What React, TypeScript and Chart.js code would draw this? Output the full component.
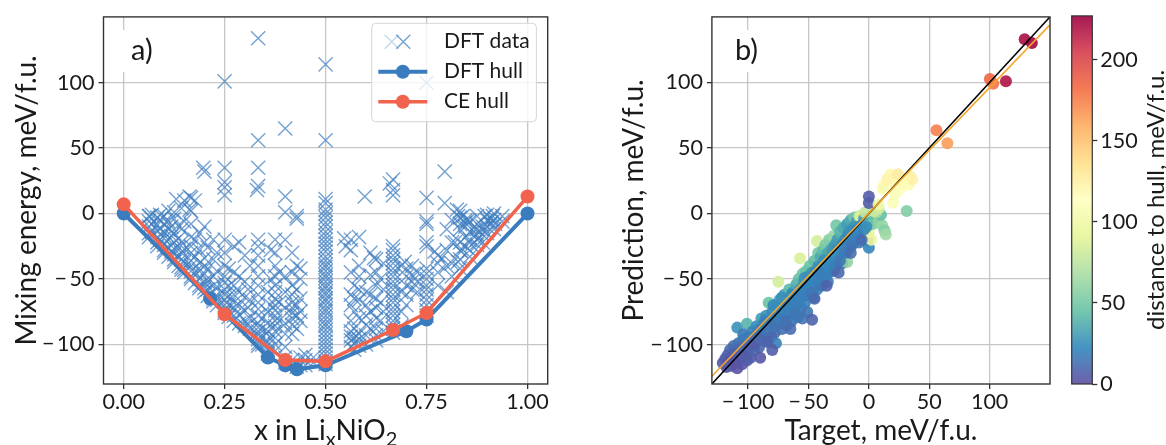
import React, { useEffect, useRef } from 'react';
import { Chart, registerables } from 'chart.js';

Chart.register(...registerables);

// ---------------- Panel a) data ----------------
const dftData: number[][] = [
  [0.0625, -2], [0.0625, -6], [0.0625, -10], [0.0625, -15], [0.0625, -18],
  [0.07, -1], [0.07, -8], [0.07, -14], [0.064, -2],
  [0.0833, -3], [0.0833, -9], [0.0833, -13], [0.0833, -18], [0.0833, -22], [0.0833, -25],
  [0.09, -5], [0.09, -12], [0.09, -20], [0.09, -1],
  [0.1, -2], [0.1, -8], [0.1, -14], [0.1, -19], [0.1, -24], [0.1, -28], [0.1, -30],
  [0.111, 2], [0.111, -6], [0.111, -12], [0.111, -20], [0.111, -26], [0.111, -33],
  [0.118, -10], [0.118, -17], [0.118, -29],
  [0.125, 1], [0.125, -4], [0.125, -15], [0.125, -22], [0.125, -27], [0.125, -31], [0.125, -35], [0.125, -37],
  [0.13, 11], [0.136, -9], [0.136, -19], [0.136, -26], [0.136, -33], [0.136, -40],
  [0.143, 4], [0.143, -12], [0.143, -22], [0.143, -30], [0.143, -35], [0.143, -41], [0.143, -43],
  [0.15, 10], [0.15, -6], [0.15, -27], [0.15, -37], [0.15, -43], [0.15, -45],
  [0.163, 13], [0.163, 3],
  [0.1667, 12], [0.1667, 2], [0.1667, -8], [0.1667, -18], [0.1667, -25], [0.1667, -30], [0.1667, -36], [0.1667, -40], [0.1667, -44], [0.1667, -48], [0.1667, -50],
  [0.1765, 10], [0.1765, -20], [0.1765, -33], [0.1765, -45], [0.1765, -53],
  [0.1875, -15], [0.1875, -28], [0.1875, -38], [0.1875, -44], [0.1875, -50], [0.1875, -55], [0.1875, -57],
  [0.197, 35], [0.2, 32], [0.2, -10], [0.2, -22], [0.2, -34], [0.2, -40], [0.2, -46], [0.2, -52], [0.2, -57], [0.2, -60],
  [0.208, -26], [0.208, -42], [0.208, -52], [0.208, -58], [0.208, -63],
  [0.222, -20], [0.222, -35], [0.222, -48], [0.222, -55], [0.222, -60], [0.222, -65], [0.222, -67],
  [0.231, -30], [0.231, -44], [0.231, -56], [0.231, -66], [0.231, -70],
  [0.25, 101], [0.25, 35], [0.25, 24], [0.25, 20], [0.25, 14], [0.25, -20], [0.25, -30], [0.25, -40], [0.25, -48], [0.25, -53],
  [0.25, -58], [0.25, -62], [0.25, -66], [0.25, -70], [0.25, -74], [0.25, -76],
  [0.26, -42], [0.26, -55], [0.26, -63], [0.26, -70], [0.26, -75], [0.26, -79],
  [0.273, -25], [0.273, -45], [0.273, -55], [0.273, -62], [0.273, -68], [0.273, -72], [0.273, -78], [0.273, -82],
  [0.286, -22], [0.286, -48], [0.286, -60], [0.286, -70], [0.286, -77], [0.286, -84],
  [0.3, -32], [0.3, -52], [0.3, -64], [0.3, -74], [0.3, -82], [0.3, -86],
  [0.308, -58], [0.308, -72], [0.308, -85],
  [0.3125, -40], [0.3125, -66], [0.3125, -80], [0.3125, -88],
  [0.333, 134], [0.333, 56], [0.333, 35], [0.333, 21], [0.33, 18], [0.333, -20], [0.333, -25], [0.333, -32], [0.333, -40],
  [0.333, -48], [0.333, -55], [0.333, -62], [0.333, -68], [0.333, -73], [0.333, -78], [0.333, -84], [0.333, -87],
  [0.333, -90], [0.333, -93], [0.333, -96], [0.333, -99], [0.333, -101],
  [0.343, -80], [0.343, -88], [0.343, -95], [0.343, -100],
  [0.357, -60], [0.357, -75], [0.357, -90], [0.357, -98], [0.357, -104], [0.357, -107],
  [0.364, -28], [0.364, -50], [0.364, -70], [0.364, -85], [0.364, -95],
  [0.375, -20], [0.375, -30], [0.375, -40], [0.375, -48], [0.375, -55], [0.375, -60], [0.375, -65], [0.375, -70],
  [0.375, -74], [0.375, -78], [0.375, -82], [0.375, -86], [0.375, -90], [0.375, -95], [0.375, -100], [0.375, -105],
  [0.385, -45], [0.385, -68], [0.385, -82],
  [0.4, 65], [0.4, 13], [0.4, 1], [0.4, -20], [0.4, -48], [0.4, -60], [0.4, -72], [0.4, -84], [0.4, -92], [0.4, -102], [0.4, -110], [0.4, -114],
  [0.417, -30], [0.417, -45], [0.417, -55], [0.417, -62], [0.417, -68], [0.417, -72], [0.417, -76], [0.417, -80],
  [0.417, -85], [0.417, -92], [0.417, -112], [0.417, -116],
  [0.4286, -2], [0.4286, -4], [0.4286, -40], [0.4286, -58], [0.4286, -70], [0.4286, -78], [0.4286, -88], [0.4286, -115], [0.4286, -117],
  [0.4375, -42], [0.4375, -50], [0.4375, -65], [0.4375, -75], [0.4375, -82], [0.4375, -110], [0.4375, -116],
  [0.45, -108], [0.45, -112], [0.45, -116], [0.47, -110], [0.47, -114],
  [0.5, 114], [0.5, 56], [0.5, 11], [0.5, 8], [0.5, 3], [0.5, 0], [0.5, -3], [0.5, -7], [0.5, -10], [0.5, -14],
  [0.5, -17], [0.5, -20], [0.5, -23], [0.5, -26], [0.5, -29], [0.5, -33], [0.5, -36], [0.5, -39], [0.5, -41], [0.5, -44],
  [0.5, -47], [0.5, -49], [0.5, -52], [0.5, -55], [0.5, -57], [0.5, -60], [0.5, -62], [0.5, -65], [0.5, -67], [0.5, -70],
  [0.5, -73], [0.5, -75], [0.5, -78], [0.5, -81], [0.5, -84], [0.5, -86], [0.5, -89], [0.5, -92], [0.5, -95], [0.5, -98],
  [0.5, -101], [0.5, -104], [0.5, -107], [0.5, -110], [0.5, -113], [0.5, -115],
  [0.546, -19], [0.55, -25],
  [0.5625, -20], [0.5625, -28], [0.5625, -45], [0.5625, -62], [0.5625, -70], [0.5625, -82], [0.5625, -90], [0.5625, -94], [0.5625, -97], [0.5625, -102],
  [0.571, -55], [0.571, -65], [0.571, -75], [0.571, -88], [0.571, -95], [0.571, -99], [0.571, -104],
  [0.583, -18], [0.583, -40], [0.583, -48], [0.583, -58], [0.583, -66], [0.583, -80], [0.583, -92], [0.583, -96], [0.583, -101],
  [0.597, 13], [0.6, -60], [0.6, -70], [0.6, -78], [0.6, -85], [0.6, -93], [0.6, -100],
  [0.611, -30], [0.611, -47], [0.611, -62], [0.611, -75], [0.611, -88], [0.62, -34],
  [0.625, -35], [0.625, -45], [0.625, -55], [0.625, -65], [0.625, -72], [0.625, -80], [0.625, -88], [0.625, -93], [0.625, -97],
  [0.636, -50], [0.636, -68], [0.636, -82],
  [0.643, -38], [0.643, -58], [0.643, -75], [0.643, -90], [0.659, 23],
  [0.667, 26], [0.667, 18], [0.667, 14], [0.667, -25], [0.667, -28], [0.667, -32], [0.667, -35], [0.667, -38],
  [0.667, -42], [0.667, -45], [0.667, -48], [0.667, -52], [0.667, -55], [0.667, -58], [0.667, -62], [0.667, -65],
  [0.667, -68], [0.667, -72], [0.667, -75], [0.667, -78], [0.667, -82], [0.667, -85], [0.667, -88], [0.667, -91],
  [0.6875, -40], [0.6875, -60], [0.6875, -75], [0.6875, -86],
  [0.696, -37], [0.7, -42], [0.7, -48], [0.7, -55], [0.7, -62], [0.7, -70],
  [0.714, -40], [0.714, -47], [0.714, -52], [0.714, -58],
  [0.727, -45], [0.727, -52], [0.727, -60],
  [0.75, 100], [0.75, 12], [0.75, -6], [0.75, -8], [0.75, -22], [0.75, -25], [0.75, -42], [0.75, -46],
  [0.75, -50], [0.75, -55], [0.75, -58], [0.75, -62], [0.75, -66], [0.75, -70], [0.75, -74], [0.75, -78],
  [0.77, -29], [0.778, -32], [0.778, -38], [0.778, -45], [0.778, -55], [0.787, -34],
  [0.795, 32], [0.795, 8],
  [0.8, -12], [0.8, -28], [0.8, -40], [0.8, -60],
  [0.8125, -5], [0.8125, -22], [0.8125, -38], [0.8125, -48],
  [0.82, -22], [0.825, 3], [0.828, -2], [0.828, -37],
  [0.833, 2], [0.833, -3], [0.833, -8], [0.833, -12], [0.833, -22], [0.833, -28], [0.833, -35], [0.833, -42],
  [0.836, -29], [0.84, -2], [0.845, -7],
  [0.846, -5], [0.846, -10], [0.846, -18], [0.846, -25], [0.853, -5],
  [0.857, -6], [0.857, -14], [0.857, -20], [0.857, -28], [0.857, -33],
  [0.861, -24], [0.87, -12],
  [0.875, -2], [0.875, -8], [0.875, -12], [0.875, -16], [0.875, -20], [0.875, -24],
  [0.878, -19], [0.887, -12], [0.889, -10], [0.889, -16], [0.889, -22], [0.894, -2],
  [0.9, -1], [0.9, -5], [0.9, -10], [0.9, -15],
  [0.909, -4], [0.909, -8], [0.91, -7], [0.914, -2],
  [0.917, 0], [0.917, -5], [0.917, -12], [0.92, -8],
  [0.9375, -2], [0.9375, -6],
];

const dftHullX = [0, 0.214, 0.357, 0.4, 0.429, 0.5, 0.7, 0.75, 1];
const dftHullE = [0, -65, -110, -116, -119, -116, -90, -81, 0];
const ceHullX = [0, 0.25, 0.4, 0.5, 0.667, 0.75, 1];
const ceHullE = [7, -77, -112, -113, -89, -76, 13];

const xTicksA = [0, 0.25, 0.5, 0.75, 1];
const yTicks = [-100, -50, 0, 50, 100];

// ---------------- Panel b) data: [target, prediction, distance to hull] ----------------
const parityPoints: number[][] = [
  [-121, -114, 4], [-119, -111, 6], [-118, -117, 3], [-117, -108, 8], [-116, -113, 2], [-115, -104, 10],
  [-114, -116, 5], [-113, -109, 3], [-112, -101, 12], [-111, -114, 2], [-110, -106, 7], [-109, -118, 1],
  [-108, -99, 14], [-107, -111, 4], [-106, -103, 9], [-105, -115, 3], [-104, -96, 16], [-103, -108, 6],
  [-102, -100, 11], [-101, -112, 5], [-100, -94, 15], [-100, -107, 3], [-99, -102, 8], [-98, -110, 6],
  [-97, -97, 12], [-109, -87, 26], [-101, -84, 40], [-104, -92, 18], [-96, -90, 20], [-95, -104, 10],
  [-94, -99, 7], [-93, -86, 24], [-92, -95, 15], [-91, -102, 9], [-90, -88, 18], [-89, -80, 30],
  [-88, -93, 12], [-87, -85, 20], [-86, -97, 10], [-85, -78, 26], [-84, -90, 17], [-83, -68, 46],
  [-82, -83, 20], [-81, -94, 12], [-80, -75, 24], [-80, -86, 15], [-79, -80, 22], [-78, -91, 10],
  [-77, -99, 20], [-76, -72, 28], [-75, -84, 18], [-75, -52, 84], [-74, -66, 32], [-73, -78, 20],
  [-72, -88, 14], [-71, -70, 24], [-70, -62, 30], [-70, -80, 18], [-69, -74, 22], [-68, -85, 12],
  [-67, -65, 26], [-66, -58, 42], [-66, -76, 20], [-65, -70, 22], [-64, -82, 14], [-63, -60, 28],
  [-62, -66, 24], [-61, -74, 20], [-60, -54, 36], [-60, -63, 24], [-59, -79, 18], [-58, -50, 44],
  [-58, -68, 22], [-57, -34, 86], [-57, -58, 28], [-56, -72, 18], [-55, -46, 50], [-55, -63, 22],
  [-54, -52, 30], [-53, -68, 20], [-52, -44, 46], [-52, -58, 26], [-51, -75, 16], [-50, -48, 28],
  [-50, -62, 20], [-49, -40, 48], [-48, -55, 24], [-47, -81, 8], [-47, -45, 28], [-46, -64, 18],
  [-45, -36, 44], [-45, -52, 22], [-43, -21, 84], [-44, -44, 26], [-43, -58, 20], [-42, -30, 50],
  [-42, -40, 28], [-41, -50, 22], [-40, -33, 36], [-40, -45, 24], [-39, -55, 16], [-38, -28, 44],
  [-38, -38, 26], [-37, -48, 20], [-36, -24, 52], [-36, -34, 28], [-35, -42, 22], [-34, -30, 34],
  [-34, -52, 18], [-33, -20, 55], [-32, -36, 24], [-31, -27, 36], [-30, -44, 18], [-29, -43, 5],
  [-29, -17, 62], [-28, -24, 28], [-28, -34, 22], [-27, -9, 50], [-26, -20, 30], [-25, -30, 20],
  [-24, -14, 40], [-23, -26, 24], [-22, -38, 16], [-21, -11, 36], [-20, -20, 26], [-19, -30, 18],
  [-18, -37, 60], [-18, -8, 30], [-17, -16, 22], [-16, -26, 18], [-15, -5, 36], [-14, -13, 24],
  [-13, -22, 20], [-12, -3, 50], [-12, -10, 26], [-11, -18, 22], [-10, -6, 30], [-9, -14, 22],
  [-8, -2, 70], [-8, -22, 18], [-7, -2, 88], [-6, -9, 26], [-5, -16, 8], [-4, -4, 30],
  [-3, -12, 16], [-2, -6, 36], [-1, -20, 6], [0, -26, 22], [2, -20, 98], [0, -14, 95],
  [1, -2, 48], [2, -5, 36], [3, -8, 52], [5, -3, 45], [8, -6, 58], [11, -9, 62],
  [13, -13, 56], [14, -16, 65], [10, -1, 45], [6, 1, 70], [8, 4, 85], [4, 2, 80], [-3, 1, 78],
  [-96, -100, 6], [-93, -93, 14], [-89, -96, 10], [-86, -82, 20], [-84, -98, 8], [-81, -86, 16],
  [-79, -70, 24], [-77, -85, 14], [-74, -80, 18], [-72, -64, 26], [-69, -82, 14], [-67, -71, 20],
  [-64, -62, 24], [-62, -76, 16], [-60, -69, 18], [-57, -63, 20], [-55, -57, 22], [-53, -49, 26],
  [-51, -62, 18], [-49, -51, 22], [-47, -60, 16], [-45, -46, 24], [-43, -50, 20], [-41, -42, 24],
  [-39, -46, 18], [-37, -36, 26], [-35, -47, 20], [-33, -40, 22], [-31, -34, 24], [-30, -28, 28],
  [-28, -40, 18], [-26, -28, 24], [-24, -36, 16], [-22, -24, 22], [-20, -30, 18], [-18, -22, 20],
  [-16, -14, 26], [-14, -24, 14], [-12, -18, 20], [-10, -13, 22], [-8, -10, 24], [-6, -20, 12],
  [-4, -12, 20], [-2, -10, 26], [-15, -30, 12], [-25, -45, 10], [-35, -55, 8], [-45, -65, 10],
  [-55, -80, 14], [-65, -88, 12], [-80, -104, 6], [-90, -110, 4],
  [0, 13, 5], [0, 8, 6],
  [17.5, 29.7, 120], [12, 21, 115], [20, 24, 118], [34, 28.5, 125], [33, 22, 110], [26, 19, 112],
  [11.7, 19, 105], [20, 8.3, 108], [8, 7, 100], [15, 26, 122], [24, 30, 128], [30, 25, 118],
  [36, 26, 124], [22, 15, 110], [28, 22, 116], [31.3, 2, 55],
  [56, 63.6, 175], [65, 53.6, 165],
  [100.2, 102.6, 185], [103, 99, 178],
  [113.5, 101, 220], [129, 133, 222], [135, 130, 225],
];

const fitLineX = [-130, 150];
const fitLineY = [-124, 144];
const identityX = [-130, 150];
const identityY = [-130, 150];
const xTicksB = [-100, -50, 0, 50, 100];
const cbTicks = [0, 50, 100, 150, 200];
const CB_MAX = 227;

// ---------------- styles ----------------
const FONT = 'Lato';
const TXT = '#1a1a1a';
const SPINE = '#333333';
const GRID = '#c6c6c6';
const BLUE = '#3b7cbf';
const RED = '#f1634d';
const CROSS = 'rgba(64,126,192,0.72)';
const ORANGE = '#f4a62a';
const TITLE_SIZE = 28;
const SPECTRAL_R = ['#5e4fa2', '#3288bd', '#66c2a5', '#abdda4', '#e6f598', '#ffffbf', '#fee08b', '#fdae61', '#f46d43', '#d53e4f', '#9e0142'];

function hexToRgb(h: string) {
  return [parseInt(h.slice(1, 3), 16), parseInt(h.slice(3, 5), 16), parseInt(h.slice(5, 7), 16)];
}
function cmap(t: number, alpha: number) {
  const tt = Math.max(0, Math.min(1, t)) * 10;
  const i = Math.min(9, Math.floor(tt));
  const f = tt - i;
  const a = hexToRgb(SPECTRAL_R[i]);
  const b = hexToRgb(SPECTRAL_R[i + 1]);
  const c = a.map((v, k) => Math.round(v + (b[k] - v) * f));
  return `rgba(${c[0]},${c[1]},${c[2]},${alpha})`;
}

const tickFont = { family: FONT, size: 21.5 };
const fmtInt = (v: any) => (Number(v) < 0 ? '\u2212\u2009' + Math.abs(Number(v)) : String(v));

function fixedTicks(vals: number[]) {
  return (s: any) => {
    s.ticks = vals.map((v) => ({ value: v }));
  };
}

function axisGrid() {
  return { color: GRID, lineWidth: 1.3, tickLength: 5, tickColor: SPINE, tickWidth: 1.3, drawTicks: true };
}

function drawSubText(ctx: CanvasRenderingContext2D, parts: { t: string; sub?: boolean }[], cx: number, baseline: number, size: number) {
  const big = `${size}px ${FONT}`;
  const small = `${Math.round(size * 0.72)}px ${FONT}`;
  let total = 0;
  for (const p of parts) {
    ctx.font = p.sub ? small : big;
    total += ctx.measureText(p.t).width;
  }
  let x = cx - total / 2;
  ctx.textAlign = 'left';
  ctx.textBaseline = 'alphabetic';
  for (const p of parts) {
    ctx.font = p.sub ? small : big;
    ctx.fillText(p.t, x, baseline + (p.sub ? size * 0.22 : 0));
    x += ctx.measureText(p.t).width;
  }
}

function drawRotated(ctx: CanvasRenderingContext2D, text: string, x: number, y: number, size: number) {
  ctx.save();
  ctx.translate(x, y);
  ctx.rotate(-Math.PI / 2);
  ctx.font = `${size}px ${FONT}`;
  ctx.textAlign = 'center';
  ctx.textBaseline = 'alphabetic';
  ctx.fillStyle = TXT;
  ctx.fillText(text, 0, 0);
  ctx.restore();
}

function drawCross(ctx: CanvasRenderingContext2D, x: number, y: number, h: number, color: string) {
  ctx.strokeStyle = color;
  ctx.lineWidth = 1.4;
  ctx.beginPath();
  ctx.moveTo(x - h, y - h);
  ctx.lineTo(x + h, y + h);
  ctx.moveTo(x - h, y + h);
  ctx.lineTo(x + h, y - h);
  ctx.stroke();
}

function panelLabel(ctx: CanvasRenderingContext2D, text: string, x: number, baseline: number) {
  ctx.font = `29px ${FONT}`;
  const w = ctx.measureText(text).width;
  ctx.fillStyle = '#ffffff';
  ctx.fillRect(x - 8, baseline - 30, w + 16, 42);
  ctx.fillStyle = TXT;
  ctx.textAlign = 'left';
  ctx.textBaseline = 'alphabetic';
  ctx.fillText(text, x, baseline);
}

const leftDecor = {
  id: 'leftDecor',
  afterDraw(chart: any) {
    const { ctx, chartArea: a } = chart;
    ctx.save();
    ctx.strokeStyle = SPINE;
    ctx.lineWidth = 1.4;
    ctx.strokeRect(a.left, a.top, a.right - a.left, a.bottom - a.top);
    panelLabel(ctx, 'a)', 131, 60);

    // legend
    const lx = 371.7, ly = 23.3, lw = 164.7, lh = 98.4;
    ctx.beginPath();
    ctx.roundRect(lx, ly, lw, lh, 4);
    ctx.fillStyle = 'rgba(255,255,255,0.8)';
    ctx.fill();
    ctx.strokeStyle = '#d6d6d6';
    ctx.lineWidth = 1;
    ctx.stroke();
    drawCross(ctx, 391.7, 41.7, 7, 'rgba(64,126,192,0.3)');
    drawCross(ctx, 403.3, 41.7, 7, CROSS);
    ctx.lineWidth = 4;
    ctx.strokeStyle = BLUE;
    ctx.beginPath();
    ctx.moveTo(378.3, 71.7);
    ctx.lineTo(427.3, 71.7);
    ctx.stroke();
    ctx.fillStyle = BLUE;
    ctx.beginPath();
    ctx.arc(402.8, 71.7, 7, 0, Math.PI * 2);
    ctx.fill();
    ctx.lineWidth = 3.5;
    ctx.strokeStyle = RED;
    ctx.beginPath();
    ctx.moveTo(378.3, 101.7);
    ctx.lineTo(427.3, 101.7);
    ctx.stroke();
    ctx.fillStyle = RED;
    ctx.beginPath();
    ctx.arc(402.8, 101.7, 7, 0, Math.PI * 2);
    ctx.fill();
    ctx.fillStyle = TXT;
    ctx.font = `21px ${FONT}`;
    ctx.textAlign = 'left';
    ctx.textBaseline = 'middle';
    ctx.fillText('DFT data', 444, 41.7);
    ctx.fillText('DFT hull', 444, 71.7);
    ctx.fillText('CE hull', 444, 101.7);

    // axis titles
    ctx.fillStyle = TXT;
    drawSubText(ctx, [{ t: 'x in Li' }, { t: 'x', sub: true }, { t: 'NiO' }, { t: '2', sub: true }], (a.left + a.right) / 2, 440, TITLE_SIZE);
    drawRotated(ctx, 'Mixing energy, meV/f.u.', 36, (a.top + a.bottom) / 2, TITLE_SIZE);
    ctx.restore();
  },
};

const rightDecor = {
  id: 'rightDecor',
  afterDraw(chart: any) {
    const { ctx, chartArea: a } = chart;
    ctx.save();
    ctx.strokeStyle = SPINE;
    ctx.lineWidth = 1.4;
    ctx.strokeRect(a.left, a.top, a.right - a.left, a.bottom - a.top);
    panelLabel(ctx, 'b)', a.left + 23, 60);
    ctx.fillStyle = TXT;
    drawSubText(ctx, [{ t: 'Target, meV/f.u.' }], (a.left + a.right) / 2, 440, TITLE_SIZE);
    drawRotated(ctx, 'Prediction, meV/f.u.', 83, (a.top + a.bottom) / 2, TITLE_SIZE);
    ctx.restore();
  },
};

const colorbarDecor = {
  id: 'colorbarDecor',
  afterDraw(chart: any) {
    const { ctx, chartArea: a } = chart;
    const ys = chart.scales.y;
    ctx.save();
    const g = ctx.createLinearGradient(0, ys.getPixelForValue(0), 0, ys.getPixelForValue(CB_MAX));
    SPECTRAL_R.forEach((_, i) => g.addColorStop(i / 10, cmap(i / 10, 0.9)));
    ctx.fillStyle = '#ffffff';
    ctx.fillRect(a.left, a.top, a.right - a.left, a.bottom - a.top);
    ctx.fillStyle = g;
    ctx.fillRect(a.left, a.top, a.right - a.left, a.bottom - a.top);
    ctx.strokeStyle = SPINE;
    ctx.lineWidth = 1.2;
    ctx.strokeRect(a.left, a.top, a.right - a.left, a.bottom - a.top);
    drawRotated(ctx, 'distance to hull, meV/f.u.', 104, (a.top + a.bottom) / 2, 24);
    ctx.restore();
  },
};

export default function App() {
  const leftRef = useRef<HTMLCanvasElement>(null);
  const rightRef = useRef<HTMLCanvasElement>(null);
  const cbRef = useRef<HTMLCanvasElement>(null);

  useEffect(() => {
    const common = {
      responsive: false,
      animation: false as const,
      events: [] as any[],
    };

    const left = new Chart(leftRef.current!, {
      type: 'scatter',
      data: {
        datasets: [
          {
            label: 'CE hull',
            data: ceHullX.map((x, i) => ({ x, y: ceHullE[i] })),
            showLine: true,
            borderColor: RED,
            backgroundColor: RED,
            borderWidth: 3.5,
            pointRadius: 7,
            pointBorderWidth: 0,
            pointBackgroundColor: RED,
          },
          {
            label: 'DFT hull',
            data: dftHullX.map((x, i) => ({ x, y: dftHullE[i] })),
            showLine: true,
            borderColor: BLUE,
            backgroundColor: BLUE,
            borderWidth: 4,
            pointRadius: 7,
            pointBorderWidth: 0,
            pointBackgroundColor: BLUE,
          },
          {
            label: 'DFT data',
            data: dftData.map(([x, y]) => ({ x, y })),
            showLine: false,
            pointStyle: 'crossRot',
            pointRadius: 10,
            pointBorderColor: CROSS,
            pointBorderWidth: 1.4,
            pointBackgroundColor: 'transparent',
          },
        ],
      },
      options: {
        ...common,
        layout: { padding: { left: 0, top: 12.3, right: 12.3, bottom: 0 } },
        plugins: { legend: { display: false }, tooltip: { enabled: false } },
        scales: {
          x: {
            type: 'linear',
            min: -0.05,
            max: 1.05,
            afterBuildTicks: fixedTicks(xTicksA),
            afterFit: (s: any) => { s.height = 61; },
            ticks: { font: tickFont, color: TXT, padding: 0, maxRotation: 0, autoSkip: false, callback: (v: any) => Number(v).toFixed(2) },
            grid: axisGrid(),
            border: { display: false },
          },
          y: {
            type: 'linear',
            min: -130.3,
            max: 150.3,
            afterBuildTicks: fixedTicks(yTicks),
            afterFit: (s: any) => { s.width = 103.5; },
            ticks: { font: tickFont, color: TXT, padding: 4, autoSkip: false, callback: fmtInt },
            grid: axisGrid(),
            border: { display: false },
          },
        },
      } as any,
      plugins: [leftDecor],
    });

    const right = new Chart(rightRef.current!, {
      type: 'scatter',
      data: {
        datasets: [
          {
            label: 'fit',
            data: fitLineX.map((x, i) => ({ x, y: fitLineY[i] })),
            showLine: true,
            borderColor: ORANGE,
            borderWidth: 1.6,
            pointRadius: 0,
          },
          {
            label: 'y = x',
            data: identityX.map((x, i) => ({ x, y: identityY[i] })),
            showLine: true,
            borderColor: '#000000',
            borderWidth: 1.6,
            pointRadius: 0,
          },
          {
            label: 'CE vs DFT',
            data: parityPoints.map(([x, y]) => ({ x, y })),
            showLine: false,
            pointRadius: 6,
            pointBorderWidth: 0,
            pointBackgroundColor: parityPoints.map((p) => cmap(p[2] / CB_MAX, 0.9)),
          },
        ],
      },
      options: {
        ...common,
        layout: { padding: { left: 0, top: 12.3, right: 10, bottom: 0 } },
        plugins: { legend: { display: false }, tooltip: { enabled: false } },
        scales: {
          x: {
            type: 'linear',
            min: -130,
            max: 150,
            afterBuildTicks: fixedTicks(xTicksB),
            afterFit: (s: any) => { s.height = 61; },
            ticks: { font: tickFont, color: TXT, padding: 0, maxRotation: 0, autoSkip: false, callback: fmtInt },
            grid: axisGrid(),
            border: { display: false },
          },
          y: {
            type: 'linear',
            min: -130,
            max: 150,
            afterBuildTicks: fixedTicks(yTicks),
            afterFit: (s: any) => { s.width = 151.9; },
            ticks: { font: tickFont, color: TXT, padding: 4, autoSkip: false, callback: fmtInt },
            grid: axisGrid(),
            border: { display: false },
          },
        },
      } as any,
      plugins: [rightDecor],
    });

    const cb = new Chart(cbRef.current!, {
      type: 'scatter',
      data: { datasets: [] },
      options: {
        ...common,
        layout: { padding: { left: 11.7, top: 12.3, right: 0, bottom: 61 } },
        plugins: { legend: { display: false }, tooltip: { enabled: false } },
        scales: {
          x: { display: false, min: 0, max: 1 },
          y: {
            type: 'linear',
            position: 'right',
            min: 0,
            max: CB_MAX,
            afterBuildTicks: fixedTicks(cbTicks),
            afterFit: (s: any) => { s.width = 73.7; },
            ticks: { font: tickFont, color: TXT, padding: 3, autoSkip: false, callback: fmtInt },
            grid: { drawOnChartArea: false, tickLength: 5, tickColor: SPINE, tickWidth: 1.3 },
            border: { display: false },
          },
        },
      } as any,
      plugins: [colorbarDecor],
    });

    return () => {
      left.destroy();
      right.destroy();
      cb.destroy();
    };
  }, []);

  return (
    <div style={{ position: 'absolute', left: 0, top: 0, width: 1166, height: 445, background: '#ffffff', overflow: 'hidden' }}>
      <canvas ref={leftRef} width={560} height={445} style={{ position: 'absolute', left: 0, top: 0 }} />
      <canvas ref={rightRef} width={500} height={445} style={{ position: 'absolute', left: 560, top: 0 }} />
      <canvas ref={cbRef} width={106} height={445} style={{ position: 'absolute', left: 1060, top: 0 }} />
    </div>
  );
}
